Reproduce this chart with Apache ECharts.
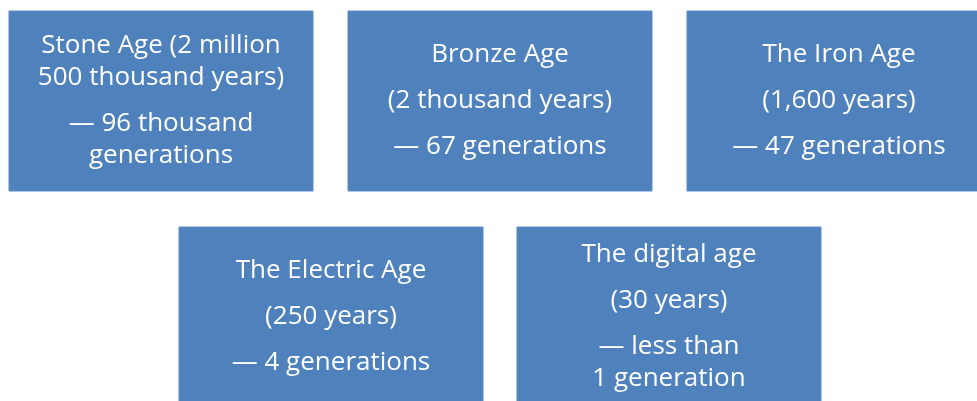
<!DOCTYPE html>
<html>
<head>
<meta charset="utf-8">
<script src="https://cdn.jsdelivr.net/npm/echarts@6/dist/echarts.min.js"></script>
<style>
  html, body { margin: 0; padding: 0; background: #fff; }
  #chart { width: 977px; height: 401px; }
</style>
</head>
<body>
<div id="chart"></div>
<script>
  // texts of each box
  var ages = ['Stone Age', 'Bronze Age', 'The Iron Age', 'The Electric Age', 'The digital age'];
  var spans = ['(2 million\n500 thousand years)', '(2 thousand years)', '(1,600 years)', '(250 years)', '(30 years)'];
  var generations = ['— 96 thousand\ngenerations', '— 67 generations', '— 47 generations', '— 4 generations', '— less than\n1 generation'];
  var joinTitle = [true, false, false, false, false];   // title and span in one paragraph

  // layout (pixels, top-left of each box)
  var boxX = [9, 348, 687, 179, 517];
  var boxY = [11, 11, 11, 227, 227];
  var boxW = 304, boxH = 180, boxH2 = 178;
  var lineH = 32, paraGap = 14;

  var myChart = echarts.init(document.getElementById('chart'));

  function paragraphs(i) {
    var p = joinTitle[i] ? [ages[i] + ' ' + spans[i]] : [ages[i], spans[i]];
    p.push(generations[i]);
    return p.map(function (s) { return s.split('\n'); });
  }

  var option = {
    animation: false,
    grid: { left: 0, right: 0, top: 0, bottom: 0 },
    xAxis: { type: 'value', min: 0, max: 977, show: false },
    yAxis: { type: 'value', min: 0, max: 401, inverse: true, show: false },
    series: [{
      type: 'custom',
      clip: true,
      data: ages.map(function (a, i) { return [i]; }),
      renderItem: function (params, api) {
        var i = api.value(0);
        var h = i < 3 ? boxH : boxH2;
        var p0 = api.coord([boxX[i], boxY[i]]);
        var p1 = api.coord([boxX[i] + boxW, boxY[i] + h]);
        var children = [{
          type: 'rect',
          shape: { x: p0[0], y: p0[1], width: p1[0] - p0[0], height: p1[1] - p0[1] },
          style: { fill: '#4F81BD', stroke: '#5b8bc4', lineWidth: 1 }
        }];
        var paras = paragraphs(i);
        var total = 0;
        paras.forEach(function (lines, k) { total += lines.length * lineH + (k ? paraGap : 0); });
        var cx = (p0[0] + p1[0]) / 2;
        var cy = i < 3 ? 101 : 317;
        var y = cy - total / 2 + lineH / 2;
        paras.forEach(function (lines, k) {
          if (k) y += paraGap;
          lines.forEach(function (ln) {
            children.push({
              type: 'text',
              style: {
                text: ln, x: cx, y: y, align: 'center', verticalAlign: 'middle',
                fill: '#fff', font: '26px "Open Sans", sans-serif'
              }
            });
            y += lineH;
          });
        });
        return { type: 'group', children: children };
      }
    }]
  };
  myChart.setOption(option);
</script>
</body>
</html>
